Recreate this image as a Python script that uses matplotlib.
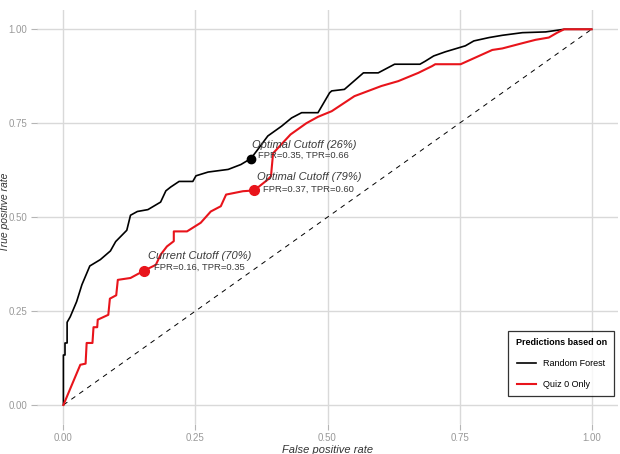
import matplotlib
matplotlib.use("Agg")
import matplotlib.pyplot as plt

plt.rcParams['font.family'] = ['Liberation Sans', 'DejaVu Sans']

# ROC curve
rf_fpr = [0, 0, 0.003, 0.003, 0.007, 0.007, 0.013, 0.025, 0.035, 0.05, 0.07,
          0.089, 0.099, 0.12, 0.127, 0.14, 0.16, 0.184, 0.194, 0.203, 0.219,
          0.245, 0.251, 0.274, 0.312, 0.336, 0.355, 0.368, 0.387, 0.413,
          0.432, 0.451, 0.482, 0.504, 0.508, 0.532, 0.568, 0.596, 0.627,
          0.675, 0.685, 0.701, 0.723, 0.761, 0.777, 0.806, 0.831, 0.869,
          0.913, 0.948, 1.0]
rf_tpr = [0, 0.133, 0.133, 0.165, 0.165, 0.22, 0.235, 0.275, 0.32, 0.37, 0.387,
          0.41, 0.435, 0.465, 0.505, 0.515, 0.52, 0.54, 0.57, 0.58, 0.595,
          0.595, 0.61, 0.62, 0.627, 0.64, 0.656, 0.68, 0.716, 0.742,
          0.764, 0.778, 0.778, 0.831, 0.836, 0.84, 0.884, 0.884, 0.907,
          0.907, 0.915, 0.929, 0.94, 0.956, 0.969, 0.978, 0.984, 0.991,
          0.993, 1.0, 1.0]

quiz_fpr = [0, 0.032, 0.042, 0.044, 0.055, 0.057, 0.064, 0.065, 0.085, 0.088,
            0.1, 0.103, 0.127, 0.152, 0.175, 0.184, 0.196, 0.209, 0.209,
            0.234, 0.26, 0.279, 0.298, 0.308, 0.34, 0.361, 0.387, 0.393,
            0.395, 0.397, 0.43, 0.46, 0.482, 0.508, 0.551, 0.602, 0.634,
            0.672, 0.698, 0.704, 0.752, 0.812, 0.831, 0.869, 0.894, 0.919,
            0.935, 0.948, 1.0]
quiz_tpr = [0, 0.107, 0.11, 0.165, 0.165, 0.207, 0.207, 0.227, 0.24, 0.283,
            0.292, 0.333, 0.338, 0.357, 0.373, 0.40, 0.422, 0.436, 0.462,
            0.462, 0.485, 0.515, 0.529, 0.56, 0.569, 0.571, 0.60, 0.609,
            0.64, 0.67, 0.72, 0.75, 0.767, 0.782, 0.822, 0.849, 0.862,
            0.884, 0.902, 0.907, 0.907, 0.945, 0.949, 0.963, 0.972, 0.978,
            0.991, 1.0, 1.0]

# cutoff points
cut_x = [0.355, 0.361, 0.152]
cut_y = [0.656, 0.571, 0.357]
cut_titles = ['Optimal Cutoff (26%)', 'Optimal Cutoff (79%)', 'Current Cutoff (70%)']
cut_labels = ['FPR=0.35, TPR=0.66', 'FPR=0.37, TPR=0.60', 'FPR=0.16, TPR=0.35']

RED = '#e8141b'
cut_colors = ['black', RED, RED]
cut_sizes = [6, 7, 7]
# offsets in pixels (title, label)
title_off = [(1, 14), (3, 13), (4, 15)]
label_off = [(7, 3), (9, 1), (10, 4)]


fig = plt.figure(figsize=(6.2, 4.54), dpi=100)
ax = fig.add_axes([37 / 620, 1 - 423.75 / 454, 581 / 620, 413.25 / 454])

ax.plot([0, 1], [0, 1], color='black', lw=0.7, linestyle=(0, (5, 5)))
ax.plot(rf_fpr, rf_tpr, color='black', lw=1.2, label='Random Forest')
ax.plot(quiz_fpr, quiz_tpr, color=RED, lw=1.5, label='Quiz 0 Only')

for i in range(len(cut_x)):
    ax.plot(cut_x[i], cut_y[i], 'o', color=cut_colors[i], ms=cut_sizes[i], zorder=5)
    ax.annotate(cut_titles[i], (cut_x[i], cut_y[i]), xytext=title_off[i],
                textcoords='offset pixels', fontsize=8, style='italic',
                color='#3a3a3a', ha='left', va='center')
    ax.annotate(cut_labels[i], (cut_x[i], cut_y[i]), xytext=label_off[i],
                textcoords='offset pixels', fontsize=6.8,
                color='#3a3a3a', ha='left', va='center')

ax.set_xlim(-0.05, 1.05)
ax.set_ylim(-0.05, 1.05)
ticks = [0, 0.25, 0.5, 0.75, 1.0]
ax.set_xticks(ticks)
ax.set_yticks(ticks)
ax.set_xticklabels(['0.00', '0.25', '0.50', '0.75', '1.00'])
ax.set_yticklabels(['0.00', '0.25', '0.50', '0.75', '1.00'])
ax.tick_params(colors='#b5b5b5', labelcolor='#999999', labelsize=7,
               length=4, width=0.8, pad=3)
ax.grid(True, color='#d9d9d9', lw=1.0)
ax.set_axisbelow(True)
for s in ax.spines.values():
    s.set_visible(False)

ax.set_xlabel('False positive rate', fontsize=8, style='italic',
              color='#333333', labelpad=1)
fig.text(5.2 / 620, 1 - 212 / 454, 'True positive rate', fontsize=7.5,
         style='italic', color='#333333', rotation=90, ha='center', va='center')

leg = ax.legend(title='Predictions based on', loc='lower right',
                bbox_to_anchor=(0.993, 0.067), borderaxespad=0,
                fontsize=6.5, title_fontproperties={'weight': 'bold', 'size': 6.5},
                frameon=True, fancybox=False, edgecolor='black',
                handlelength=2.0, labelspacing=1.3, borderpad=0.8,
                handletextpad=0.8)
leg.get_frame().set_linewidth(0.9)

fig.savefig('out.png', dpi=100)
